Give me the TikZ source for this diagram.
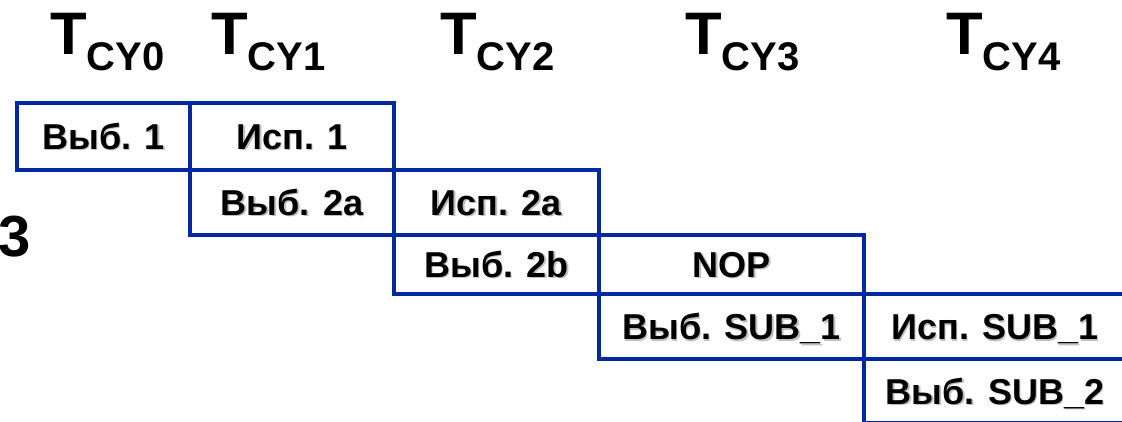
\documentclass[tikz,border=0pt]{standalone}
\usepackage{fontspec}
\setmainfont{Liberation Sans}
\usetikzlibrary{positioning}

\definecolor{lineblue}{RGB}{0,40,160}
% grey drop shadow under the stage labels
\newcommand{\shtxt}[1]{\makebox[0pt][l]{\hspace{1.5pt}\raisebox{-1.5pt}{\color{black!25}#1}}#1}

\tikzset{
  stage/.style={draw=lineblue, line width=4pt, rectangle, inner sep=0pt, outer sep=0pt,
    font=\fontsize{36}{36}\selectfont\bfseries, text height=26pt, text depth=0pt},
  cyc/.style={inner sep=0pt, anchor=base west, font=\fontsize{60}{60}\selectfont\bfseries},
}

\begin{document}
\begin{tikzpicture}[x=1pt,y=1pt]
    
    \useasboundingbox (0,0) rectangle (1122,-422);
    \clip (0,0) rectangle (1122,-422);
    
    %cycle headers:
    \foreach \x/\n in {50/0,211/1,440/2,685/3,946/4}
        \node[cyc] (cy\n) at (\x,-55) {T\raisebox{-16pt}{\fontsize{40}{40}\selectfont CY\n}};
    
    %first instruction:
    \node[stage, minimum width=173pt, minimum height=67pt] (v1) at (103.5,-136.5) {\shtxt{Выб. 1}};
    \node[stage, minimum width=204pt, minimum height=67pt, right=0pt of v1] (e1) {\shtxt{Исп. 1}};
    
    %branch:
    \node[stage, minimum width=204pt, minimum height=65pt, below=0pt of e1] (v2a) {\shtxt{Выб. 2a}};
    \node[stage, minimum width=205pt, minimum height=65pt, right=0pt of v2a] (e2a) {\shtxt{Исп. 2a}};
    \node[stage, minimum width=205pt, minimum height=59pt, below=0pt of e2a] (v2b) {\shtxt{Выб. 2b}};
    \node[stage, minimum width=265pt, minimum height=59pt, right=0pt of v2b] (nop) {\shtxt{NOP}};
    
    %subroutine:
    \node[stage, minimum width=265pt, minimum height=65pt, below=0pt of nop] (vs1) {\shtxt{Выб. SUB\_1}};
    \node[stage, minimum width=262pt, minimum height=65pt, right=0pt of vs1] (es1) {\shtxt{Исп. SUB\_1}};
    \node[stage, minimum width=262pt, minimum height=64pt, below=0pt of es1] (vs2) {\shtxt{Выб. SUB\_2}};
    
    \node[inner sep=0pt, anchor=base east, font=\fontsize{58}{58}\selectfont\bfseries] (fig) at (31,-257) {3};
    
\end{tikzpicture}
\end{document}
